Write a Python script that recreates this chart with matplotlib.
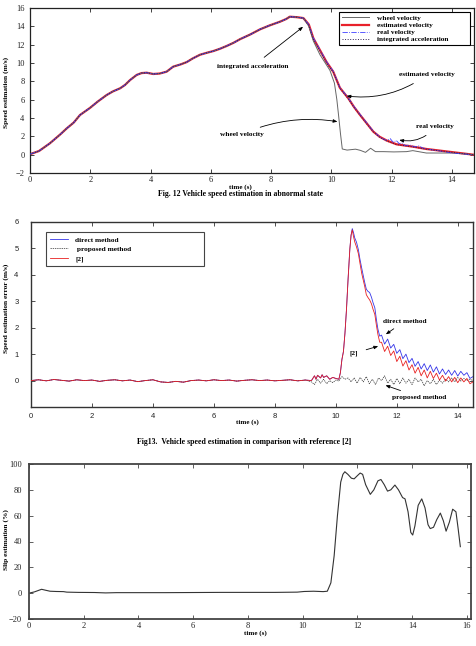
import matplotlib
matplotlib.use("Agg")
import matplotlib.pyplot as plt

SERIF = ["Liberation Serif", "DejaVu Serif"]
SANS = ["Liberation Sans", "DejaVu Sans"]

# ---------------- Fig. 12 data ----------------
t_ramp = [0.0, 0.3, 0.66, 1.0, 1.22, 1.45, 1.66, 1.99, 2.25, 2.54,
          2.75, 2.99, 3.15, 3.32, 3.54, 3.7, 3.87, 4.09, 4.3, 4.53,
          4.75, 5.0, 5.2, 5.4, 5.64, 5.85, 6.08, 6.3, 6.52, 6.75,
          6.97, 7.3, 7.63, 7.95, 8.29, 8.5, 8.62, 8.85, 9.07]
v_ramp = [0.05, 0.4, 1.24, 2.2, 2.87, 3.5, 4.33, 5.1, 5.8, 6.5,
          6.9, 7.24, 7.6, 8.14, 8.7, 8.9, 8.94, 8.8, 8.85, 9.05,
          9.6, 9.85, 10.1, 10.5, 10.9, 11.1, 11.3, 11.55, 11.85, 12.2,
          12.6, 13.1, 13.67, 14.1, 14.5, 14.8, 15.05, 15.0, 14.9]

t_est = [9.25, 9.4, 9.62, 9.84, 10.06, 10.28, 10.56, 10.75, 10.95, 11.2,
         11.39, 11.6, 11.83, 12.16, 12.71, 13.15, 13.6, 14.15, 14.7]
v_est = [14.2, 12.7, 11.4, 10.1, 9.05, 7.3, 6.15, 5.2, 4.33, 3.3,
         2.51, 1.95, 1.55, 1.13, 0.87, 0.62, 0.44, 0.22, 0.0]

t_int = [9.25, 9.4, 9.62, 9.84, 10.06, 10.28, 10.56, 10.75, 10.95, 11.2,
         11.39, 11.6, 11.83, 12.16, 12.71, 13.15, 13.6, 14.15, 14.7]
v_int = [14.1, 12.6, 11.3, 10.0, 9.0, 7.25, 6.1, 5.15, 4.3, 3.25,
         2.5, 1.9, 1.5, 1.1, 0.85, 0.6, 0.42, 0.2, 0.0]

t_real = [9.25, 9.4, 9.62, 9.84, 10.06, 10.28, 10.56, 10.75, 10.95, 11.2,
          11.39, 11.6, 11.75, 11.85, 11.95, 12.05, 12.15, 12.25, 12.35, 12.45,
          12.6, 12.75, 12.9, 13.05, 13.2, 13.4, 13.6, 13.8, 14.04, 14.3,
          14.5, 14.7]
v_real = [14.2, 12.75, 11.45, 10.15, 9.1, 7.35, 6.2, 5.25, 4.4, 3.35,
          2.55, 1.95, 1.65, 1.55, 1.75, 1.35, 1.55, 1.2, 1.25, 1.0,
          1.05, 0.85, 0.95, 0.7, 0.6, 0.5, 0.4, 0.3, 0.15, 0.1,
          0.05, -0.05]

t_wheel = [9.25, 9.4, 9.62, 9.95, 10.1, 10.18, 10.24, 10.3, 10.36, 10.52,
           10.8, 10.96, 11.13, 11.3, 11.46, 11.73, 12.07, 12.49, 12.7, 13.15,
           14.04, 14.7]
v_wheel = [14.0, 12.4, 10.9, 9.2, 7.8, 6.0, 4.2, 2.3, 0.62, 0.5,
           0.6, 0.47, 0.25, 0.7, 0.33, 0.33, 0.3, 0.33, 0.44, 0.18,
           0.18, 0.0]

# ---------------- Fig. 13 data ----------------
t_pre = [0.0, 0.25, 0.5, 0.75, 1.0, 1.25, 1.5, 1.75, 2.0, 2.25,
         2.5, 2.75, 3.0, 3.25, 3.5, 3.75, 4.0, 4.25, 4.5, 4.75,
         5.0, 5.25, 5.5, 5.75, 6.0, 6.25, 6.5, 6.75, 7.0, 7.25,
         7.5, 7.75, 8.0, 8.25, 8.5, 8.75, 9.0]
e_pre = [0.0, 0.03, -0.01, 0.04, 0.01, -0.02, 0.03, 0.0, 0.02, -0.03,
         0.01, 0.03, -0.01, 0.02, -0.04, 0.0, 0.03, -0.05, -0.07, -0.03,
         -0.06, 0.0, 0.02, -0.01, 0.03, 0.0, 0.02, -0.02, 0.01, 0.03,
         0.0, 0.02, -0.01, 0.01, 0.03, -0.01, 0.02]

t_mid = [9.2, 9.3, 9.35, 9.4, 9.5, 9.55, 9.6, 9.7, 9.8, 9.9, 10.0, 10.1]
e_mid = [0.0, 0.18, 0.05, 0.2, 0.1, 0.22, 0.12, 0.18, 0.05, 0.12, 0.08, 0.05]

t_peak = [10.15, 10.2, 10.25, 10.3, 10.35, 10.4, 10.46, 10.5, 10.54, 10.58,
          10.62, 10.68, 10.74, 10.79, 10.85, 10.9, 10.95, 11.0, 11.05, 11.11,
          11.17, 11.22, 11.28, 11.33, 11.38, 11.44]
direct_peak = [0.3, 0.8, 1.1, 1.8, 2.7, 3.8, 4.98, 5.5, 5.75, 5.6,
               5.4, 5.23, 4.95, 4.6, 4.25, 3.97, 3.7, 3.46, 3.38, 3.33,
               3.15, 2.95, 2.75, 2.32, 1.95, 1.68]
ref2_peak = [0.3, 0.8, 1.1, 1.8, 2.7, 3.8, 4.98, 5.5, 5.7, 5.45,
             5.25, 5.05, 4.8, 4.45, 4.05, 3.8, 3.55, 3.25, 3.15, 3.05,
             2.9, 2.7, 2.5, 2.1, 1.75, 1.45]

t_tail = [11.5, 11.6, 11.7, 11.8, 11.9, 12.0, 12.1, 12.2, 12.3, 12.4,
          12.5, 12.6, 12.7, 12.8, 12.9, 13.0, 13.1, 13.2, 13.3, 13.4,
          13.5, 13.6, 13.7, 13.8, 13.9, 14.0, 14.1, 14.2, 14.3, 14.4,
          14.5]
direct_tail = [1.72, 1.38, 1.57, 1.23, 1.37, 1.03, 1.17, 0.83, 1.0, 0.68,
               0.84, 0.54, 0.72, 0.44, 0.64, 0.38, 0.59, 0.32, 0.52, 0.25,
               0.44, 0.23, 0.4, 0.2, 0.38, 0.17, 0.35, 0.2, 0.3, 0.08,
               0.15]
ref2_tail = [1.45, 1.1, 1.3, 0.95, 1.12, 0.72, 0.92, 0.55, 0.75, 0.4,
             0.6, 0.28, 0.5, 0.18, 0.4, 0.1, 0.35, 0.08, 0.28, 0.02,
             0.2, -0.02, 0.15, -0.05, 0.12, -0.08, 0.1, -0.05, 0.08, -0.12,
             -0.05]

t_prop = [9.2, 9.3, 9.4, 9.5, 9.6, 9.7, 9.8, 9.9, 10.0, 10.1,
          10.2, 10.3, 10.4, 10.5, 10.6, 10.7, 10.8, 10.9, 11.0, 11.1,
          11.2, 11.3, 11.4, 11.5, 11.6, 11.7, 11.8, 11.9, 12.0, 12.1,
          12.2, 12.3, 12.4, 12.5, 12.6, 12.7, 12.8, 12.9, 13.0, 13.1,
          13.2, 13.3, 13.4, 13.5, 13.6, 13.7, 13.8, 13.9, 14.0, 14.1,
          14.2, 14.3, 14.4, 14.5]
e_prop = [-0.05, -0.15, 0.05, -0.1, 0.05, -0.12, 0.0, -0.08, 0.02, -0.02,
          0.15, 0.05, 0.1, -0.05, 0.1, -0.1, 0.12, -0.05, 0.15, -0.12,
          0.05, -0.15, 0.1, 0.0, 0.18, -0.1, 0.05, -0.15, 0.08, -0.12,
          0.1, -0.1, 0.05, -0.15, 0.1, -0.05, 0.05, -0.2, 0.0, -0.12,
          0.05, -0.15, 0.02, -0.1, 0.05, -0.05, 0.1, -0.05, 0.12, -0.02,
          0.08, 0.0, 0.05, 0.0]

# ---------------- Slip data ----------------
t_slip = [0.0, 0.2, 0.46, 0.6, 0.77, 1.0, 1.26, 1.38, 1.8, 2.4,
          2.8, 3.2, 4.0, 5.0, 6.0, 7.0, 8.0, 9.0, 9.8, 10.05,
          10.4, 10.75, 10.9, 11.03, 11.15, 11.27, 11.39, 11.47, 11.54, 11.65,
          11.78, 11.88, 12.0, 12.1, 12.19, 12.3, 12.47, 12.6, 12.75, 12.86,
          12.98, 13.1, 13.22, 13.37, 13.5, 13.65, 13.74, 13.85, 13.95, 14.02,
          14.1, 14.22, 14.35, 14.47, 14.58, 14.66, 14.78, 14.9, 15.03, 15.14,
          15.24, 15.36, 15.48, 15.6, 15.68, 15.76]
v_slip = [0, 1, 3, 2.3, 1.5, 1.3, 1.2, 0.8, 0.6, 0.5,
          0.2, 0.4, 0.4, 0.4, 0.5, 0.6, 0.6, 0.6, 0.8, 1.3,
          1.5, 1.2, 1.5, 8, 29, 60, 86, 92, 94, 92,
          89, 88.5, 91, 93, 92, 84, 76.5, 80, 87, 88,
          84, 79, 80, 83.7, 80, 74, 73, 63, 47, 45,
          52, 68, 73, 66, 53, 50, 51, 57, 62, 56,
          48, 55, 65, 63, 50, 36]

W, H = 477, 646
fig = plt.figure(figsize=(W / 100, H / 100), dpi=100)


def box(l, t, r, b):
    return [l / W, 1 - b / H, (r - l) / W, (b - t) / H]


def style_axes(ax, fam, size, color, lw, pad_x, pad_y):
    for s in ax.spines.values():
        s.set_linewidth(lw)
        s.set_color(color)
    ax.tick_params(direction="in", top=True, right=True, length=3,
                   width=0.6, color=color, labelsize=size, labelcolor="#222222")
    ax.tick_params(axis="x", pad=pad_x)
    ax.tick_params(axis="y", pad=pad_y)
    for lab in ax.get_xticklabels() + ax.get_yticklabels():
        lab.set_family(fam)


arrow = dict(arrowstyle="-|>,head_length=0.45,head_width=0.18", color="black", lw=0.6)
afont = dict(family=SERIF, fontweight="bold", fontsize=5.3)

# ---------- Top ----------
ax1 = fig.add_axes(box(30, 8, 474, 173))
ax1.plot(t_ramp + t_est, v_ramp + v_est, color="#e8202a", lw=1.6, label="estimated velocity", zorder=2)
ax1.plot(t_ramp + t_wheel, v_ramp + v_wheel, color="#666666", lw=0.7, label="wheel velocity", zorder=3)
ax1.plot(t_ramp + t_real, v_ramp + v_real, color="#4040ff", lw=0.6, ls="-.", label="real velocity", zorder=4)
ax1.plot(t_ramp + t_int, v_ramp + v_int, color="#302050", lw=0.7, ls=":", label="integrated acceleration", zorder=5)
ax1.set_xlim(0, 14.73)
ax1.set_ylim(-2, 16)
ax1.set_xticks([0, 2, 4, 6, 8, 10, 12, 14])
ax1.set_yticks([-2, 0, 2, 4, 6, 8, 10, 12, 14, 16])
style_axes(ax1, SERIF, 6, "#222222", 0.9, 2, 4)
h, l = ax1.get_legend_handles_labels()
order = [1, 0, 2, 3]
leg1 = ax1.legend([h[i] for i in order], [l[i] for i in order], loc="upper left",
                  bbox_to_anchor=(0.696, 0.976, 0.295, 0.0), mode="expand",
                  prop=dict(family=SERIF, weight="bold", size=5.3),
                  frameon=True, fancybox=False, edgecolor="black", framealpha=1,
                  handlelength=3.7, handletextpad=1.0, borderpad=0.4, labelspacing=0.12,
                  borderaxespad=0)
leg1.get_frame().set_linewidth(0.8)
ax1.annotate("integrated acceleration", xy=(9.06, 13.95), xytext=(7.4, 9.67),
             ha="center", va="center", arrowprops=dict(**arrow, shrinkA=4, shrinkB=0), **afont)
ax1.annotate("estimated velocity", xy=(10.5, 6.4), xytext=(13.17, 8.72),
             ha="center", va="center",
             arrowprops=dict(**arrow, shrinkA=5, shrinkB=0, connectionstyle="arc3,rad=-0.2"), **afont)
ax1.annotate("real velocity", xy=(12.25, 1.6), xytext=(13.45, 3.05),
             ha="center", va="center",
             arrowprops=dict(**arrow, shrinkA=4, shrinkB=0, connectionstyle="arc3,rad=-0.3"), **afont)
ax1.annotate("wheel velocity", xy=(10.2, 3.6), xytext=(7.03, 2.22),
             ha="center", va="center",
             arrowprops=dict(**arrow, shrinkA=4, shrinkB=0, connectionstyle="arc3,rad=-0.15"), **afont)
fig.text(6 / W, 1 - 92 / H, "Speed estimation (m/s)", rotation=90, ha="center", va="center",
         family=SERIF, fontweight="bold", fontsize=5.3)
fig.text(240 / W, 1 - 187 / H, "time (s)", ha="center", va="center",
         family=SERIF, fontweight="bold", fontsize=5)
fig.text(241 / W, 1 - 194 / H, "Fig. 12 Vehicle speed estimation in abnormal state", ha="center", va="center",
         family=SERIF, fontweight="bold", fontsize=5.6)

# ---------- Middle ----------
ax2 = fig.add_axes(box(31, 222, 473, 407))
ax2.plot(t_pre + t_mid + t_peak + t_tail, e_pre + e_mid + direct_peak + direct_tail,
         color="#3535e8", lw=0.6, label="direct method", zorder=2)
ax2.plot(t_pre + t_prop, e_pre + e_prop, color="#333333", lw=0.5, ls=(0, (2, 1.2)),
         label=" proposed method", zorder=3)
ax2.plot(t_pre + t_mid + t_peak + t_tail, e_pre + e_mid + ref2_peak + ref2_tail,
         color="#e82020", lw=0.6, label="[2]", zorder=4)
ax2.set_xlim(0, 14.5)
ax2.set_ylim(-1, 6)
ax2.set_xticks([0, 2, 4, 6, 8, 10, 12, 14])
ax2.set_yticks([0, 1, 2, 3, 4, 5, 6])
style_axes(ax2, SANS, 5.5, "#333333", 1.0, 4, 9)
leg2 = ax2.legend(loc="upper left", bbox_to_anchor=(0.033, 0.946, 0.358, 0.0), mode="expand",
                  prop=dict(family=SERIF, weight="bold", size=5.3),
                  frameon=True, fancybox=False, edgecolor="#444444", framealpha=1,
                  handlelength=2.4, handletextpad=1.0, borderpad=0.6, labelspacing=0.45,
                  borderaxespad=0)
leg2.get_frame().set_linewidth(0.8)
ax2.annotate("direct method", xy=(11.64, 1.75), xytext=(12.26, 2.25),
             ha="center", va="center", arrowprops=dict(**arrow, shrinkA=3, shrinkB=0), **afont)
ax2.annotate("[2]", xy=(11.39, 1.3), xytext=(10.59, 1.03),
             ha="center", va="center", arrowprops=dict(**arrow, shrinkA=4, shrinkB=0), **afont)
ax2.annotate("proposed method", xy=(11.63, -0.18), xytext=(12.75, -0.63),
             ha="center", va="center", arrowprops=dict(**arrow, shrinkA=3, shrinkB=0), **afont)
fig.text(6 / W, 1 - 308 / H, "Speed estimation error (m/s)", rotation=90, ha="center", va="center",
         family=SERIF, fontweight="bold", fontsize=5.3)
fig.text(247 / W, 1 - 422.5 / H, "time (s)", ha="center", va="center",
         family=SERIF, fontweight="bold", fontsize=5)
fig.text(244.5 / W, 1 - 441.5 / H, "Fig13.  Vehicle speed estimation in comparison with reference [2]",
         ha="center", va="center", family=SERIF, fontweight="bold", fontsize=5.6)

# ---------- Bottom ----------
ax3 = fig.add_axes(box(29, 464, 471, 619))
ax3.plot(t_slip, v_slip, color="#333333", lw=0.8)
ax3.set_xlim(0, 16.15)
ax3.set_ylim(-20, 100)
ax3.set_xticks([0, 2, 4, 6, 8, 10, 12, 14, 16])
ax3.set_yticks([-20, 0, 20, 40, 60, 80, 100])
style_axes(ax3, SERIF, 6, "#444444", 1.3, 2, 5)
fig.text(6 / W, 1 - 540 / H, "Slip estimation (%)", rotation=90, ha="center", va="center",
         family=SERIF, fontweight="bold", fontsize=5.3)
fig.text(255 / W, 1 - 633 / H, "time (s)", ha="center", va="center",
         family=SERIF, fontweight="bold", fontsize=5)

fig.savefig("out.png", dpi=100)
